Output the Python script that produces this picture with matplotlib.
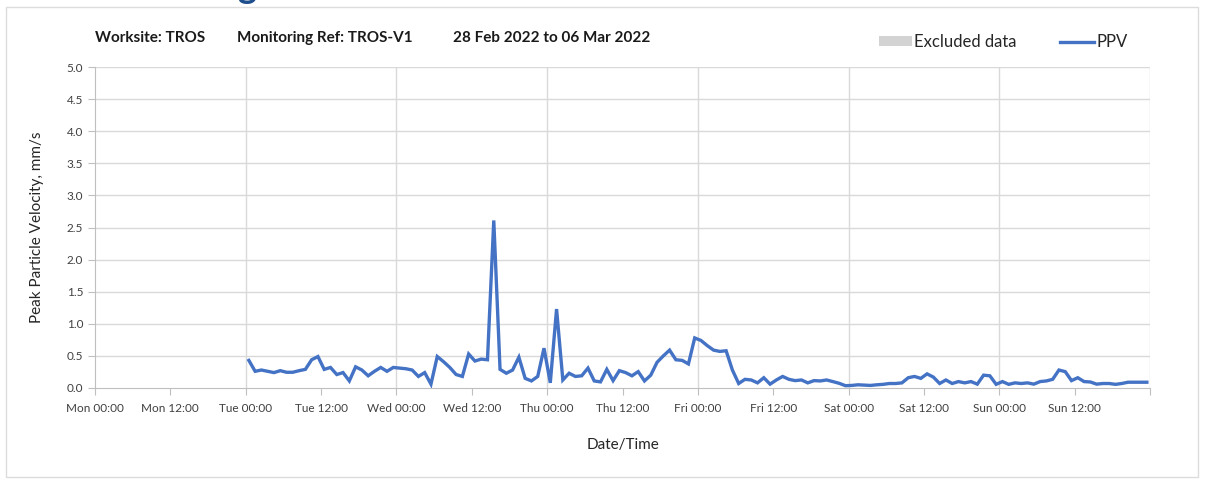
import numpy as np
import pandas as pd
import matplotlib
matplotlib.use("Agg")
from matplotlib import pyplot as plt
import matplotlib.dates as mdates
from matplotlib.patches import Patch, Rectangle
from matplotlib.lines import Line2D

plt.rcParams['font.family'] = ['Lato', 'DejaVu Sans']

# hourly PPV readings (mm/s), Tue 01 Mar 00:30 onwards
ppv = [
    0.43, 0.26, 0.28, 0.26, 0.24, 0.27, 0.245, 0.245, 0.27, 0.29, 0.44, 0.49,
    0.29, 0.32, 0.21, 0.24, 0.11, 0.33, 0.28, 0.19, 0.26, 0.32, 0.26, 0.32, 0.31,
    0.30, 0.28, 0.18, 0.24, 0.06, 0.49, 0.41, 0.32, 0.21, 0.18, 0.53, 0.42,
    0.45, 0.44, 2.61, 0.29, 0.23, 0.28, 0.48, 0.15, 0.11, 0.18, 0.62,
    0.08, 1.23, 0.125, 0.23, 0.18, 0.19, 0.31, 0.11, 0.095, 0.29, 0.115, 0.27,
    0.24, 0.19, 0.255, 0.11, 0.20, 0.40, 0.50, 0.59, 0.44, 0.43, 0.375,
    0.78, 0.74, 0.66, 0.59, 0.57, 0.58, 0.28, 0.07, 0.135, 0.125, 0.08, 0.16,
    0.06, 0.125, 0.18, 0.135, 0.115, 0.125, 0.08, 0.115, 0.11, 0.125, 0.10,
    0.073, 0.036,
    0.04, 0.05, 0.045, 0.04, 0.05, 0.057, 0.07, 0.07, 0.08, 0.16, 0.18, 0.15,
    0.22, 0.17, 0.07, 0.125, 0.07, 0.10, 0.08, 0.10, 0.06, 0.20, 0.19, 0.057,
    0.10, 0.057, 0.08, 0.07, 0.08, 0.06, 0.10, 0.11, 0.135, 0.28, 0.255, 0.115,
    0.16, 0.10, 0.094, 0.06, 0.07, 0.07, 0.057, 0.07, 0.09, 0.09, 0.09, 0.09,
]
times = pd.date_range('2022-03-01 00:30', periods=len(ppv), freq='h')

x_start = pd.Timestamp('2022-02-28 00:00')
x_end = pd.Timestamp('2022-03-07 00:00')
y_ticks = np.arange(0, 5.01, 0.5)
x_ticks = pd.date_range(x_start, x_end, freq='12h')

fig = plt.figure(figsize=(12.05, 4.8), dpi=100)
ax = fig.add_axes([95 / 1205, 1 - 388 / 480, (1150 - 95) / 1205, (388 - 67) / 480])

ax.plot(times, ppv, color='#4472C4', lw=2.4, solid_joinstyle='miter', zorder=3)

ax.set_xlim(x_start, x_end)
ax.set_ylim(0, 5)
ax.set_yticks(y_ticks)
ax.set_yticklabels([f'{v:.1f}' for v in y_ticks])

# last tick (next Monday) has no label
ax.set_xticks(x_ticks)
ax.set_xticklabels([t.strftime('%a %H:%M') for t in x_ticks[:-1]] + [''])

# gridlines: horizontal every 0.5, vertical each midnight
for v in y_ticks[1:]:
    ax.axhline(v, color='#d9d9d9', lw=1, zorder=1)
for d in pd.date_range(x_start, x_end, freq='D')[1:]:
    ax.axvline(d, color='#d9d9d9', lw=1, zorder=1)

for s in ['top', 'right']:
    ax.spines[s].set_visible(False)
for s in ['left', 'bottom']:
    ax.spines[s].set_color('#bfbfbf')

ax.tick_params(axis='both', which='major', direction='out', length=5,
               color='#bfbfbf', labelsize=8.5, labelcolor='#404040')
ax.tick_params(axis='x', pad=6)

ax.set_ylabel('Peak Particle Velocity, mm/s', fontsize=11, color='#262626', labelpad=16)
ax.set_xlabel('Date/Time', fontsize=11, color='#262626', labelpad=17)

# header
fig.text(95 / 1205, 1 - 38 / 480, 'Worksite: TROS', fontsize=11, fontweight='bold',
         va='center', color='#1a1a1a')
fig.text(237 / 1205, 1 - 38 / 480, 'Monitoring Ref: TROS-V1', fontsize=11, fontweight='bold',
         va='center', color='#1a1a1a')
fig.text(453 / 1205, 1 - 38 / 480, '28 Feb 2022 to 06 Mar 2022', fontsize=11, fontweight='bold',
         va='center', color='#1a1a1a')

# cut-off heading above the frame
fig.text(237 / 1205, 1 + 2 / 480, 'g', fontsize=26, fontweight='bold', color='#1f4e8c',
         va='baseline')

# outer frame
fig.patches.append(Rectangle((6 / 1205, 3 / 480), 1192 / 1205, 470 / 480,
                             transform=fig.transFigure, fill=False,
                             edgecolor='#dcdcdc', lw=1))

handles = [Patch(facecolor='#d3d3d3', edgecolor='none'),
           Line2D([0], [0], color='#4472C4', lw=2.4)]
fig.legend(handles, ['Excluded data', 'PPV'], loc='center',
           bbox_to_anchor=(1003 / 1205, 1 - 42 / 480), ncol=2, frameon=False,
           fontsize=12, handlelength=2.0, handleheight=0.55, handletextpad=0.15,
           columnspacing=2.6, labelcolor='#262626')

fig.savefig('out.png', dpi=100)
